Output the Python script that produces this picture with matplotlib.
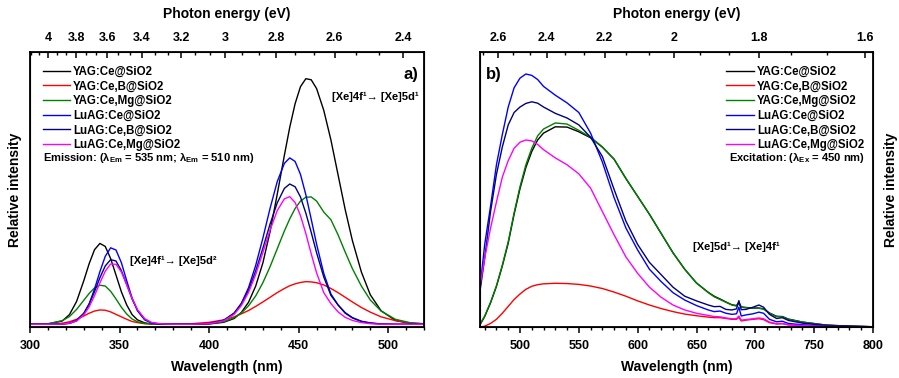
import numpy as np
import matplotlib
matplotlib.use('Agg')
import matplotlib.pyplot as plt

plt.rcParams['font.family'] = ['Liberation Sans', 'DejaVu Sans']
plt.rcParams['font.weight'] = 'bold'
plt.rcParams['mathtext.fontset'] = 'custom'
plt.rcParams['mathtext.rm'] = 'Liberation Sans:bold'
plt.rcParams['mathtext.it'] = 'Liberation Sans:bold'
plt.rcParams['mathtext.bf'] = 'Liberation Sans:bold'

labels = ['YAG:Ce@SiO2', 'YAG:Ce,B@SiO2', 'YAG:Ce,Mg@SiO2',
          'LuAG:Ce@SiO2', 'LuAG:Ce,B@SiO2', 'LuAG:Ce,Mg@SiO2']
colors = ['#000000', '#ff0000', '#008000', '#0000ff', '#000080', '#ff00ff']

# panel a) wavelength (nm)
wl_a = [300, 310, 318, 322, 326, 330, 333, 336, 339, 342,
        345, 348, 351, 354, 357, 360, 364, 368, 374, 380,
        390, 400, 408, 414, 418, 422, 426, 430, 434, 438,
        442, 445, 448, 451, 454, 457, 460, 464, 468, 472,
        476, 480, 485, 490, 496, 504, 512, 520]

yag_a = [.010, .011, .022, .045, .093, .168, .230, .281, .304, .293,
         .249, .189, .128, .080, .045, .026, .015, .011, .010, .010,
         .010, .011, .017, .031, .053, .090, .149, .233, .346, .482,
         .624, .726, .812, .874, .903, .899, .867, .788, .680, .553,
         .426, .314, .200, .117, .059, .024, .013, .011]
yag_b_a = [.010, .010, .014, .019, .028, .040, .050, .058, .062, .061,
           .055, .046, .037, .028, .020, .016, .012, .011, .010, .010,
           .012, .017, .026, .037, .048, .060, .075, .091, .108, .125,
           .140, .150, .157, .162, .165, .164, .161, .153, .140, .125,
           .108, .091, .071, .054, .037, .023, .015, .012]
yag_mg_a = [.010, .012, .023, .038, .064, .097, .122, .142, .152, .149,
            .130, .102, .072, .047, .029, .019, .013, .011, .010, .010,
            .010, .012, .019, .034, .051, .077, .113, .161, .219, .284,
            .349, .393, .431, .458, .472, .473, .458, .418, .390, .335,
            .272, .212, .149, .098, .058, .028, .016, .011]
luag_a = [.010, .010, .011, .013, .022, .048, .084, .138, .201, .257,
          .288, .280, .234, .168, .105, .059, .026, .014, .010, .010,
          .010, .012, .023, .050, .086, .143, .224, .323, .431, .528,
          .595, .615, .602, .555, .481, .392, .301, .195, .120, .080,
          .050, .033, .020, .014, .011, .010, .010, .010]
luag_b_a = [.010, .010, .011, .014, .025, .050, .083, .128, .179, .222,
            .245, .240, .205, .154, .102, .061, .029, .015, .010, .010,
            .010, .013, .024, .051, .085, .134, .204, .286, .374, .451,
            .504, .520, .510, .473, .414, .344, .270, .182, .115, .080,
            .052, .034, .021, .015, .011, .010, .010, .010]
luag_mg_a = [.010, .010, .011, .014, .022, .044, .073, .114, .160, .203,
             .229, .228, .200, .153, .104, .063, .030, .016, .011, .010,
             .010, .012, .022, .046, .078, .126, .191, .271, .352, .423,
             .466, .474, .453, .405, .340, .266, .197, .125, .085, .055,
             .035, .024, .016, .012, .010, .010, .010, .010]

# panel b) wavelength (nm)
wl_b = [466, 470, 475, 480, 485, 490, 495, 500, 505, 510,
        515, 520, 530, 540, 550, 560, 570, 580, 590, 600,
        610, 620, 630, 640, 650, 660, 665, 670, 675, 680,
        684, 686, 688, 692, 698, 703, 707, 712, 718, 723,
        728, 740, 760, 780, 800]

yag_b = [.008, .038, .088, .148, .222, .305, .410, .503, .580, .638,
         .680, .705, .728, .727, .710, .688, .654, .610, .540, .475,
         .410, .340, .270, .210, .160, .126, .112, .102, .091, .081,
         .078, .090, .073, .071, .069, .069, .066, .051, .039, .038,
         .029, .018, .007, .003, .001]
yag_b_b = [.000, .003, .013, .028, .050, .075, .100, .120, .137, .148,
           .154, .157, .159, .158, .155, .149, .140, .127, .112, .095,
           .080, .067, .056, .047, .041, .036, .034, .034, .031, .028,
           .028, .035, .022, .025, .028, .030, .027, .016, .011, .012,
           .008, .004, .002, .001, .000]
yag_mg_b = [.010, .040, .090, .150, .225, .310, .415, .510, .590, .650,
            .695, .720, .742, .738, .715, .690, .655, .610, .540, .475,
            .410, .340, .270, .210, .160, .125, .110, .100, .090, .080,
            .076, .086, .072, .070, .068, .068, .065, .050, .038, .037,
            .028, .018, .007, .003, .001]
luag_b = [.140, .300, .440, .590, .700, .800, .870, .905, .920, .915,
          .900, .875, .843, .815, .780, .705, .600, .470, .360, .280,
          .210, .165, .125, .098, .078, .062, .056, .058, .050, .046,
          .048, .072, .040, .044, .048, .054, .050, .028, .019, .021,
          .013, .008, .004, .002, .001]
luag_b_b = [.130, .250, .420, .555, .655, .735, .780, .800, .813, .819,
            .814, .800, .777, .760, .735, .690, .620, .500, .385, .300,
            .235, .190, .145, .112, .095, .080, .074, .075, .064, .062,
            .066, .096, .063, .064, .072, .080, .072, .046, .031, .034,
            .024, .014, .006, .003, .001]
luag_mg_b = [.150, .250, .360, .455, .545, .605, .650, .672, .680, .677,
             .664, .645, .615, .590, .557, .505, .420, .335, .255, .195,
             .145, .108, .080, .062, .050, .042, .038, .037, .033, .030,
             .030, .040, .025, .027, .030, .033, .030, .018, .012, .013,
             .008, .005, .002, .001, .000]

series_a = [yag_a, yag_b_a, yag_mg_a, luag_a, luag_b_a, luag_mg_a]
series_b = [yag_b, yag_b_b, yag_mg_b, luag_b, luag_b_b, luag_mg_b]

# photon energy ticks of the top axes
ev_a = [4, 3.8, 3.6, 3.4, 3.2, 3, 2.8, 2.6, 2.4]
ev_b = [2.6, 2.4, 2.2, 2, 1.8, 1.6]


# where the top energy ticks sit on the wavelength scale
def pos_a(e):
    return 12.8 + 1189.0 / np.asarray(e)


def pos_b(e):
    return -17.6 + 1297.0 / np.asarray(e)


fig = plt.figure(figsize=(8.99, 3.78), dpi=100)
ax1 = fig.add_axes([0.0334, 0.1349, 0.4383, 0.7275])
ax2 = fig.add_axes([0.5339, 0.1349, 0.4372, 0.7275])


def style_axes(ax, x0, x1, major, pos, ev, e_lo, e_hi):
    ax.set_xlim(x0, x1)
    ax.set_ylim(0, 1)
    ax.set_yticks([])
    ax.set_xticks(np.arange(major[0], x1 + 0.1, 50))
    ax.set_xticks(np.arange(major[1], x1 + 0.1, 10), minor=True)
    ax.tick_params(axis='x', which='major', direction='out', length=4, width=1.1,
                   labelsize=9, pad=5)
    ax.tick_params(axis='x', which='minor', direction='out', length=2.5, width=1)
    for s in ax.spines.values():
        s.set_linewidth(1.3)
    ax.set_xlabel('Wavelength (nm)', fontsize=10, fontweight='bold', labelpad=6)

    top = ax.twiny()
    top.set_xlim(x0, x1)
    top.set_xticks(pos(ev))
    top.set_xticklabels(['%g' % e for e in ev])
    minor_e = [e for e in np.arange(e_lo, e_hi, 0.2 / 3)
               if min(abs(e - m) for m in ev) > 0.01]
    top.set_xticks(pos(minor_e), minor=True)
    top.tick_params(axis='x', which='major', direction='in', length=4, width=1.1,
                    labelsize=9, pad=6)
    top.tick_params(axis='x', which='minor', direction='in', length=2.5, width=1)
    top.set_xlabel('Photon energy (eV)', fontsize=10, fontweight='bold', labelpad=10)
    top.set_yticks([])
    return top


style_axes(ax1, 300, 520, (300, 300), pos_a, ev_a, 2.4, 4.14)
style_axes(ax2, 466, 800, (500, 470), pos_b, ev_b, 1.6, 2.7)

for vals, lab, c in zip(series_a, labels, colors):
    ax1.plot(wl_a, vals, color=c, lw=1.0, label=lab)
for vals, lab, c in zip(series_b, labels, colors):
    ax2.plot(wl_b, vals, color=c, lw=1.0, label=lab)

leg_kw = dict(frameon=False, handlelength=2.4, handletextpad=0.25, labelspacing=0.23,
              borderaxespad=0.8, borderpad=0.4, prop={'weight': 'bold', 'size': 8.3})
ax1.legend(loc='upper left', bbox_to_anchor=(-0.003, 1.0), **leg_kw)
ax2.legend(loc='upper left', bbox_to_anchor=(0.592, 1.0), **leg_kw)

ax1.text(0.033, 0.615, r'Emission: ($\lambda_{\rm Em}$ = 535 nm; $\lambda_{\rm Em}$ = 510 nm)',
         transform=ax1.transAxes, fontsize=8, fontweight='bold', va='center')
ax2.text(0.634, 0.615, r'Excitation: ($\lambda_{\rm Ex}$ = 450 nm)',
         transform=ax2.transAxes, fontsize=8, fontweight='bold', va='center')

ax1.text(0.985, 0.92, 'a)', transform=ax1.transAxes, fontsize=12, fontweight='bold',
         ha='right', va='center')
ax1.text(0.985, 0.836, '[Xe]4f¹→ [Xe]5d¹', transform=ax1.transAxes, fontsize=8,
         fontweight='bold', ha='right', va='center')
ax1.text(0.254, 0.241, '[Xe]4f¹→ [Xe]5d²', transform=ax1.transAxes, fontsize=8,
         fontweight='bold', ha='left', va='center')
ax2.text(0.015, 0.92, 'b)', transform=ax2.transAxes, fontsize=12, fontweight='bold',
         ha='left', va='center')
ax2.text(0.541, 0.292, '[Xe]5d¹→ [Xe]4f¹', transform=ax2.transAxes, fontsize=8,
         fontweight='bold', ha='left', va='center')

ax1.set_ylabel('Relative intensity', fontsize=10, fontweight='bold', labelpad=6)
ax2.yaxis.set_label_position('right')
ax2.set_ylabel('Relative intensity', fontsize=10, fontweight='bold', labelpad=8)

plt.savefig('out.png', dpi=100)
